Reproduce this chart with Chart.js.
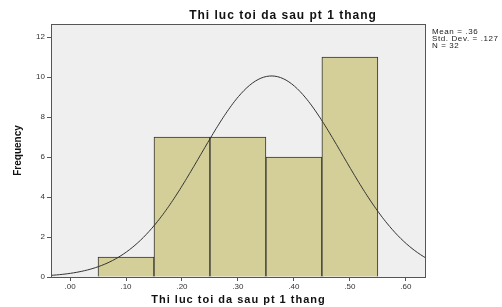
<!DOCTYPE html>
<html>
<head>
<meta charset="utf-8">
<script src="https://cdn.jsdelivr.net/npm/chart.js@4"></script>
<style>
  html, body { margin: 0; padding: 0; background: #fff; }
  #wrap { width: 502px; height: 307px; }
</style>
</head>
<body>
<div id="wrap"><canvas id="c" width="502" height="307"></canvas></div>
<script>
  // ---------- data ----------
  const BIN_CENTERS = [0.1, 0.2, 0.3, 0.4, 0.5];
  const BIN_COUNTS = [1, 7, 7, 6, 11];
  const X_TICKS = [0, 0.1, 0.2, 0.3, 0.4, 0.5, 0.6];
  const Y_TICKS = [0, 2, 4, 6, 8, 10, 12];
  const TITLE = "Thi luc toi da sau pt 1 thang";
  const X_TITLE = "Thi luc toi da sau pt 1 thang";
  const Y_TITLE = "Frequency";
  const STATS = ["Mean = .36", "Std. Dev. = .127", "N = 32"];
  // fitted normal curve, from the printed stats
  const MEAN = 0.36, SD = 0.127, N = 32, BIN_W = 0.1;
  const X_MIN = -0.034, X_MAX = 0.636, Y_MAX = 12.65;

  const curve = [];
  for (let i = 0; i <= 134; i++) {
    const x = X_MIN + (X_MAX - X_MIN) * i / 134;
    const z = (x - MEAN) / SD;
    curve.push({ x, y: N * BIN_W / (SD * Math.sqrt(2 * Math.PI)) * Math.exp(-0.5 * z * z) });
  }
  const bars = BIN_CENTERS.map((x, i) => ({ x, y: BIN_COUNTS[i] }));

  const FONT = "'Liberation Sans', Arial, sans-serif";

  const frame = {
    id: "frame",
    beforeDraw(ch) {
      const a = ch.chartArea, ctx = ch.ctx;
      ctx.save();
      ctx.fillStyle = "#efefef";
      ctx.fillRect(a.left, a.top, a.right - a.left, a.bottom - a.top);
      ctx.restore();
    },
    afterDraw(ch) {
      const a = ch.chartArea, ctx = ch.ctx;
      ctx.save();
      ctx.strokeStyle = "#555";
      ctx.lineWidth = 1;
      ctx.strokeRect(a.left + 0.5, a.top + 0.5, a.right - a.left - 1, a.bottom - a.top);
      // titles, SPSS-style wide spacing
      ctx.fillStyle = "#111";
      ctx.textAlign = "center";
      ctx.textBaseline = "middle";
      ctx.letterSpacing = "1px";
      ctx.font = "bold 12px " + FONT;
      ctx.fillText(TITLE, 283, 16);
      ctx.font = "bold 11px " + FONT;
      ctx.fillText(X_TITLE, (a.left + a.right) / 2, 300);
      // stats box text
      ctx.letterSpacing = "0.6px";
      ctx.font = "8px " + FONT;
      ctx.textAlign = "left";
      ctx.fillStyle = "#222";
      STATS.forEach((s, i) => ctx.fillText(s, a.right + 6, 32 + i * 7));
      ctx.restore();
    },
  };

  new Chart(document.getElementById("c"), {
    data: {
      datasets: [
        {
          type: "line",
          data: curve,
          borderColor: "#333",
          borderWidth: 1,
          pointRadius: 0,
          tension: 0.3,
          order: 0,
        },
        {
          type: "bar",
          data: bars,
          backgroundColor: "#d4cf98",
          borderColor: "#333",
          borderWidth: 1,
          barPercentage: 1,
          categoryPercentage: 1,
          order: 1,
        },
      ],
    },
    options: {
      responsive: false,
      animation: false,
      layout: { padding: { left: 0, right: 76, top: 24, bottom: 0 } },
      plugins: { legend: { display: false }, tooltip: { enabled: false } },
      scales: {
        x: {
          type: "linear",
          offset: false,
          min: X_MIN,
          max: X_MAX,
          afterBuildTicks: (s) => { s.ticks = X_TICKS.map((v) => ({ value: v })); },
          afterFit: (s) => { s.height = 30; },
          grid: { offset: false, drawOnChartArea: false, drawTicks: true, tickLength: 4, color: "#555" },
          border: { display: false },
          ticks: {
            padding: 1,
            color: "#333",
            font: { family: FONT, size: 8 },
            callback: (v) => v.toFixed(2).replace(/^0/, ""),
          },
        },
        y: {
          min: 0,
          max: Y_MAX,
          afterBuildTicks: (s) => { s.ticks = Y_TICKS.map((v) => ({ value: v })); },
          afterFit: (s) => { s.width = 51; },
          grid: { drawOnChartArea: false, drawTicks: true, tickLength: 4, color: "#555" },
          border: { display: false },
          ticks: {
            padding: 2,
            color: "#333",
            font: { family: FONT, size: 8 },
          },
          title: {
            display: true,
            text: Y_TITLE,
            color: "#111",
            font: { family: FONT, size: 10, weight: "bold" },
            padding: { top: 12, bottom: 12 },
          },
        },
      },
    },
    plugins: [frame],
  });
</script>
</body>
</html>
